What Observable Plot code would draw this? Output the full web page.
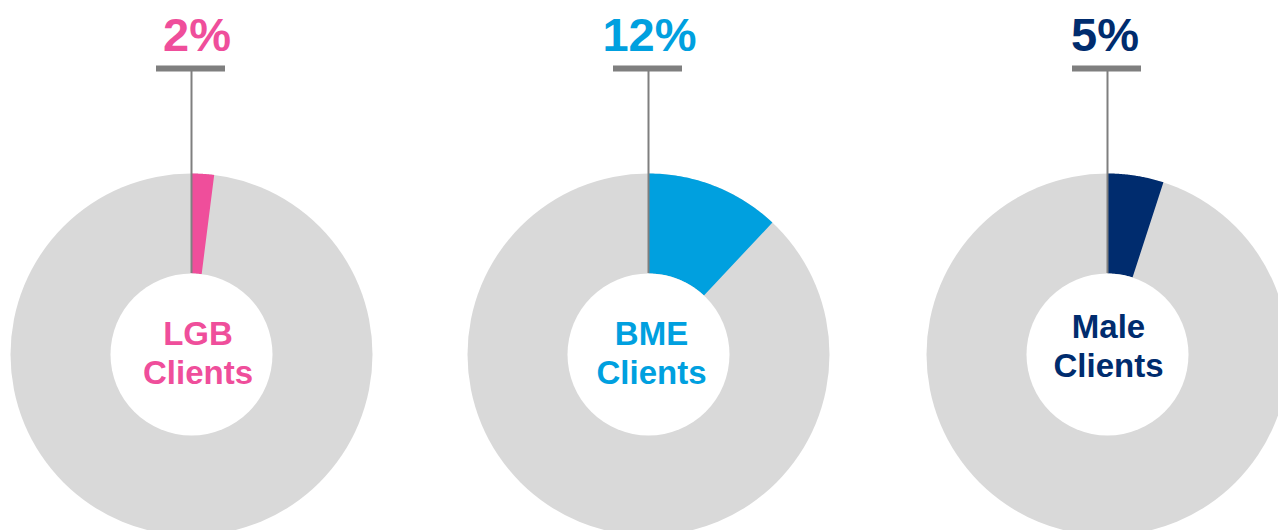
<!DOCTYPE html>
<html>
<head>
<meta charset="utf-8">
<script src="https://cdn.jsdelivr.net/npm/d3@7"></script>
<script src="https://cdn.jsdelivr.net/npm/@observablehq/plot@0.6"></script>
<style>
  html, body { margin: 0; padding: 0; background: #fff; }
  #chart svg { display: block; overflow: hidden; }
</style>
</head>
<body>
<div id="chart"></div>
<script>
// ---- data ----
const groups = ["LGB", "BME", "Male"];
const labels = ["LGB\nClients", "BME\nClients", "Male\nClients"];
const shares = [2, 12, 5]; // percent of clients

// ---- style / layout ----
const colors = ["#EF4E9B", "#00A0DF", "#002C6E"];
const W = 1278, H = 530;
const centersX = [191, 648, 1107];
const centerY = 354;
const rOuter = 181, rInner = 81;
const labelBaseline = [383, 383, 376];
const labelDx = [6.5, 3, 1];
const pctDx = [5.5, 1, -2.5];

// build annulus-sector polygons from the shares
const slices = [];
groups.forEach((g, i) => {
  const a1 = shares[i] / 100 * 2 * Math.PI;
  const n = 60;
  for (let k = 0; k <= n; k++) {
    const a = a1 * k / n;
    slices.push({g, x: centersX[i] + rOuter * Math.sin(a), y: centerY - rOuter * Math.cos(a)});
  }
  for (let k = n; k >= 0; k--) {
    const a = a1 * k / n;
    slices.push({g, x: centersX[i] + rInner * Math.sin(a), y: centerY - rInner * Math.cos(a)});
  }
});

const rows = groups.map((g, i) => ({
  g, label: labels[i], share: shares[i], cx: centersX[i], color: colors[i],
  base: labelBaseline[i], lx: centersX[i] + labelDx[i], px: centersX[i] + pctDx[i]
}));

const chart = Plot.plot({
  width: W, height: H,
  margin: 0,
  x: {domain: [0, W], range: [0, W], axis: null},
  y: {domain: [0, H], range: [0, H], axis: null},
  style: {fontFamily: "'Liberation Sans', Arial, sans-serif", background: "#fff"},
  marks: [
    // grey ring background
    Plot.dot(rows, {x: "cx", y: () => centerY, r: rOuter, fill: "#D9D9D9", stroke: null}),
    // coloured share slices
    Plot.line(slices, {x: "x", y: "y", z: "g", fill: d => colors[groups.indexOf(d.g)], stroke: null, curve: "linear"}),
    // white hole
    Plot.dot(rows, {x: "cx", y: () => centerY, r: rInner, fill: "#fff", stroke: null}),
    // leader lines
    Plot.ruleX(rows, {x: "cx", y1: () => 68, y2: () => centerY - rInner, stroke: "#7F7F7F", strokeWidth: 2}),
    Plot.ruleY(rows, {y: () => 68, x1: d => d.cx - 35, x2: d => d.cx + 34, stroke: "#7F7F7F", strokeWidth: 6}),
    // percentage labels
    Plot.text(rows, {x: "px", y: () => 50, text: d => `${d.share}%`, fill: d => d.color,
      fontSize: 47, fontWeight: "bold", lineAnchor: "bottom", textAnchor: "middle"}),
    // centre labels
    Plot.text(rows, {x: "lx", y: "base", text: "label", fill: d => d.color,
      fontSize: 33, fontWeight: "bold", lineAnchor: "bottom", lineHeight: 1.18, textAnchor: "middle"})
  ]
});
document.getElementById("chart").appendChild(chart);
</script>
</body>
</html>
